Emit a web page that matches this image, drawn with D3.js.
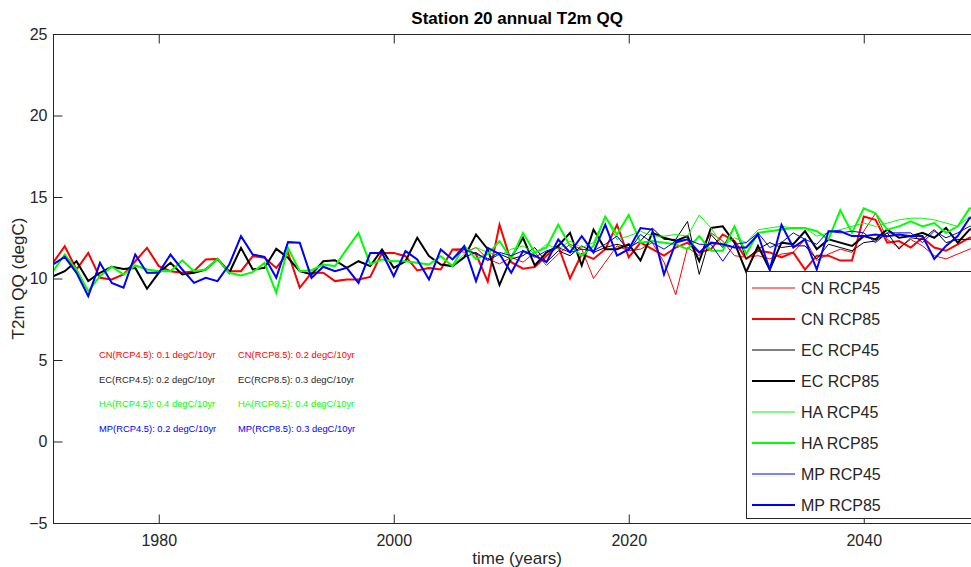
<!DOCTYPE html>
<html>
<head>
<meta charset="utf-8">
<script src="https://cdn.jsdelivr.net/npm/d3@7"></script>
<style>
html,body{margin:0;padding:0;background:#fff;overflow:hidden;}
text{font-family:"Liberation Sans",Arial,Helvetica,sans-serif;}
</style>
</head>
<body>
<svg id="chart" width="971" height="567"></svg>
<script>
// ---------------- data ----------------
const histYears = d3.range(1971, 2006);   // 1971..2005 (shared historical run)
const scenYears = d3.range(2006, 2051);   // 2006..2050 (scenario runs)

const cnHist = [10.96,11.98,10.55,11.57,10.04,9.94,10.25,11.06,11.88,10.76,10.45,10.35,10.45,11.17,11.2,10.45,10.45,11.37,11.27,10.65,11.57,9.43,10.35,10.35,9.84,9.94,9.94,10.1,11.57,11.57,11.37,10.49,10.65,10.55,11.78];
const cn45 = [11.6,11.9,11.2,10.9,11.3,11.0,11.6,10.8,11.5,12.1,11.8,10.0,11.0,12.0,11.7,11.8,12.2,11.0,9.0,11.9,11.4,12.8,12.3,11.4,11.3,11.4,11.2,11.5,11.6,12.4,11.1,11.5,11.8,11.6,12.9,14.0,12.4,11.9,12.4,12.0,11.4,11.2,11.5,11.8,12.0];
const cn85 = [11.8,11.5,9.8,13.3,11.0,10.6,10.7,11.4,12.0,10.0,11.5,11.2,11.8,13.3,11.3,12.2,11.8,11.4,11.9,12.2,11.6,11.8,12.7,12.3,11.2,11.7,11.6,11.3,11.6,10.55,11.4,11.4,11.1,11.1,13.8,13.6,12.2,12.3,11.9,12.5,11.9,11.7,12.1,12.5,12.6];

const ecHist = [10.14,10.45,11.06,9.84,10.35,10.72,10.59,10.65,9.37,10.35,10.96,10.25,10.35,10.55,11.2,10.35,11.88,10.55,10.65,11.82,11.27,10.45,10.25,11.06,11.12,10.65,11.06,10.76,11.78,10.65,11.06,12.5,11.37,10.86,10.76];
const ec45 = [11.3,11.6,11.1,11.5,11.2,11.4,11.9,11.0,11.7,11.4,12.0,11.6,11.9,12.1,11.9,12.3,13.1,12.4,12.4,13.5,10.25,12.7,11.9,13.2,11.2,11.8,12.2,11.9,12.0,12.0,11.2,12.1,11.9,11.7,12.2,12.3,12.8,11.8,12.5,12.4,13.0,12.2,12.4,12.4,12.5];
const ec85 = [11.3,12.7,11.8,9.6,11.3,12.5,10.8,11.6,12.0,12.8,10.8,13.0,11.8,11.8,12.1,11.1,12.8,12.5,12.3,12.6,11.06,13.1,13.2,12.2,10.4,12.0,10.55,12.2,12.1,12.9,11.8,12.4,12.2,12.0,12.6,12.4,13.0,12.5,12.6,12.8,12.5,13.1,12.2,13.0,13.2];

const haHist = [10.45,11.47,10.55,9.22,10.14,10.72,10.25,10.8,10.55,10.45,10.45,11.12,10.45,10.55,11.2,10.35,10.18,10.39,10.96,9.12,11.88,10.45,10.51,10.86,10.76,11.8,12.8,10.86,11.17,11.06,11.06,10.96,10.86,11.37,10.76];
const ha45 = [11.5,11.9,11.6,11.4,11.8,12.0,11.5,12.1,11.8,12.3,11.9,12.2,13.8,12.4,12.6,12.9,12.6,12.6,12.7,12.6,13.9,13.1,12.0,12.5,12.2,12.99,13.1,13.2,13.1,13.1,12.6,12.8,13.0,13.2,13.4,13.2,13.4,13.6,13.7,13.7,13.6,13.4,13.2,13.8,13.9];
const ha85 = [12.0,11.2,11.5,12.3,11.2,12.8,11.6,11.9,13.3,12.0,11.4,12.0,13.8,12.7,13.9,12.2,12.3,12.2,12.1,11.8,12.6,11.7,11.7,13.2,11.5,12.8,12.9,13.0,13.1,13.1,12.9,12.4,14.2,12.8,14.3,14.0,13.0,13.2,13.5,13.2,13.4,12.8,13.2,14.3,14.4];

const mpHist = [10.86,11.33,10.35,8.92,10.96,9.73,9.43,11.47,10.35,10.35,11.47,10.55,9.73,10.04,9.84,10.86,12.6,11.47,11.33,10.04,12.23,12.19,10.04,10.72,10.45,10.65,9.73,11.57,11.57,10.14,11.68,11.17,9.94,11.78,11.17];
const mp45 = [11.8,11.5,11.2,11.6,11.4,11.7,11.3,11.7,11.9,11.6,11.8,11.7,12.1,12.6,11.7,12.7,12.2,11.8,12.3,12.4,12.1,12.1,11.06,12.1,12.2,12.8,11.9,12.2,12.8,12.4,12.1,12.9,12.8,12.9,12.8,12.2,12.8,12.8,12.8,12.2,12.9,12.5,12.8,13.2,13.3];
const mp85 = [11.98,9.84,11.88,11.5,10.35,11.68,11.4,11.0,12.39,11.6,12.6,11.6,13.3,11.4,11.8,13.1,13.0,10.25,12.2,12.4,11.6,12.2,12.1,11.9,11.9,12.7,10.55,13.3,11.9,12.4,10.55,12.9,12.9,12.6,12.6,12.7,12.6,12.7,12.6,12.6,11.2,12.0,12.6,13.7,13.8];

const seriesNames = ["CN RCP45","CN RCP85","EC RCP45","EC RCP85","HA RCP45","HA RCP85","MP RCP45","MP RCP85"];
const seriesColors = ["#ff0000","#ff0000","#000000","#000000","#00ff00","#00ff00","#0000ff","#0000ff"];
const seriesWidths = [1,2,1,2,1,2,1,2];

const trendLabels = [
  ["CN(RCP4.5): 0.1 degC/10yr","CN(RCP8.5): 0.2 degC/10yr"],
  ["EC(RCP4.5): 0.2 degC/10yr","EC(RCP8.5): 0.3 degC/10yr"],
  ["HA(RCP4.5): 0.4 degC/10yr","HA(RCP8.5): 0.4 degC/10yr"],
  ["MP(RCP4.5): 0.2 degC/10yr","MP(RCP8.5): 0.3 degC/10yr"]
];
const trendColors = ["#ff0000","#262626","#00ff00","#0000ff"];

const xTicks = [1980, 2000, 2020, 2040];
const yTicks = [-5, 0, 5, 10, 15, 20, 25];

// ---------------- build ----------------
const allYears = histYears.concat(scenYears);
const seriesValues = [
  cnHist.concat(cn45), cnHist.concat(cn85),
  ecHist.concat(ec45), ecHist.concat(ec85),
  haHist.concat(ha45), haHist.concat(ha85),
  mpHist.concat(mp45), mpHist.concat(mp85)
];

const svg = d3.select("#chart");
const L = 53, R = 981.25, T = 34, B = 523;
const x = d3.scaleLinear().domain([1971, 2050]).range([L, R]);
const y = d3.scaleLinear().domain([-5, 25]).range([B, T]);
const axisColor = "#262626";

svg.append("defs").append("clipPath").attr("id","clip")
  .append("rect").attr("x", L).attr("y", T).attr("width", R - L).attr("height", B - T);

// title
svg.append("text").attr("x", (L + R) / 2).attr("y", 24)
  .attr("text-anchor","middle").attr("font-size", 17).attr("font-weight","bold")
  .attr("fill","#000").text("Station 20 annual T2m QQ");

// lines
const line = d3.line().x(d => x(d[0])).y(d => y(d[1]));
const g = svg.append("g").attr("clip-path","url(#clip)");
seriesValues.forEach((vals, i) => {
  g.append("path")
    .datum(allYears.map((yr, k) => [yr, vals[k]]))
    .attr("d", line)
    .attr("fill","none")
    .attr("stroke", seriesColors[i])
    .attr("stroke-width", seriesWidths[i])
    .attr("stroke-linejoin","miter");
});

// axes box
const ax = svg.append("g");
ax.append("line").attr("x1", L+0.5).attr("x2", L+0.5).attr("y1", T).attr("y2", B+0.5).attr("stroke", axisColor);
ax.append("line").attr("x1", L).attr("x2", R).attr("y1", T+0.5).attr("y2", T+0.5).attr("stroke", axisColor);
ax.append("line").attr("x1", L).attr("x2", R).attr("y1", B+0.5).attr("y2", B+0.5).attr("stroke", axisColor);

// x ticks via axis
const xAxisB = d3.axisBottom(x).tickValues(xTicks).tickSize(-9).tickFormat(d3.format("d")).tickPadding(11);
const gxb = svg.append("g").attr("transform", `translate(0,${B+0.5})`).call(xAxisB);
gxb.select(".domain").remove();
gxb.selectAll("line").attr("stroke", axisColor);
gxb.selectAll("text").attr("font-size", 16).attr("fill", axisColor).attr("font-family","Liberation Sans, Arial, sans-serif");

const xAxisT = d3.axisTop(x).tickValues(xTicks).tickSize(-9).tickFormat("");
const gxt = svg.append("g").attr("transform", `translate(0,${T+0.5})`).call(xAxisT);
gxt.select(".domain").remove();
gxt.selectAll("line").attr("stroke", axisColor);

const yAxisL = d3.axisLeft(y).tickValues(yTicks).tickSize(-9).tickFormat(d3.format("d")).tickPadding(6);
const gyl = svg.append("g").attr("transform", `translate(${L+0.5},0)`).call(yAxisL);
gyl.select(".domain").remove();
gyl.selectAll("line").attr("stroke", axisColor);
gyl.selectAll("text").attr("font-size", 16).attr("fill", axisColor).attr("font-family","Liberation Sans, Arial, sans-serif");

// axis labels
svg.append("text").attr("x", (L + R) / 2).attr("y", 564)
  .attr("text-anchor","middle").attr("font-size", 17).attr("fill", axisColor).text("time (years)");
svg.append("text").attr("transform", `translate(24,${(T + B) / 2}) rotate(-90)`)
  .attr("text-anchor","middle").attr("font-size", 17).attr("fill", axisColor).text("T2m QQ (degC)");

// trend annotations
const annX = [99, 238];
const annY = [355, 379.5, 404, 428.5];
trendLabels.forEach((row, r) => {
  row.forEach((txt, c) => {
    svg.append("text").attr("x", annX[c]).attr("y", annY[r]).attr("dy","0.35em")
      .attr("font-size", 9.4).attr("fill", trendColors[r]).text(txt);
  });
});

// legend
const lg = svg.append("g");
lg.append("rect").attr("x", 746.5).attr("y", 271.5).attr("width", 260).attr("height", 247)
  .attr("fill","#fff").attr("stroke", axisColor).attr("stroke-width", 1);
seriesNames.forEach((name, i) => {
  const yy = 288 + i * 31;
  lg.append("line").attr("x1", 752).attr("x2", 795).attr("y1", yy).attr("y2", yy)
    .attr("stroke", seriesColors[i]).attr("stroke-width", seriesWidths[i]);
  lg.append("text").attr("x", 801).attr("y", yy).attr("dy","0.35em")
    .attr("font-size", 16).attr("fill", axisColor).text(name);
});
</script>
</body>
</html>
